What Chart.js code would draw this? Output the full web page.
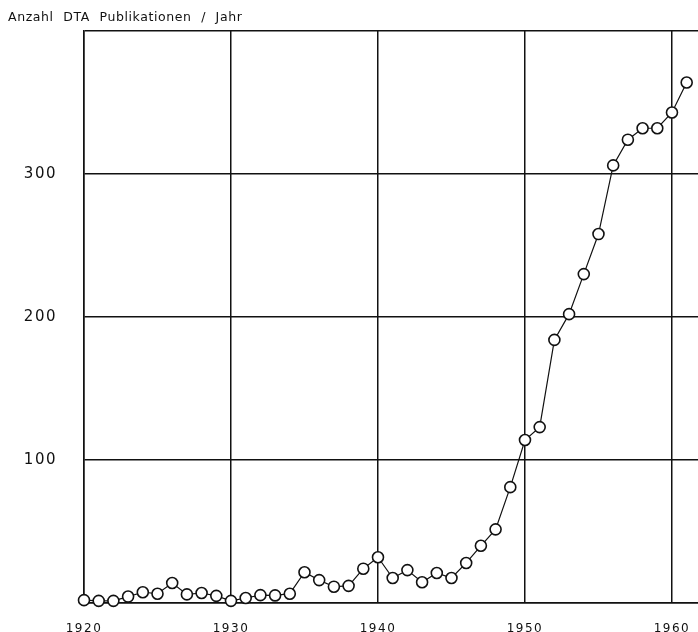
<!DOCTYPE html>
<html>
<head>
<meta charset="utf-8">
<script src="https://cdn.jsdelivr.net/npm/chart.js@4"></script>
<style>
    html, body { margin: 0; padding: 0; background: #fff; overflow: hidden; }
    #wrap { position: relative; width: 698px; height: 632px; }
    #title {
        position: absolute; left: 8px; top: 9px;
        font: 12.5px "DejaVu Sans", sans-serif; letter-spacing: 0.6px;
        word-spacing: 5px; color: #111;
    }
</style>
</head>
<body>
<div id="wrap">
    <div id="title">Anzahl DTA Publikationen / Jahr</div>
    <canvas id="dtaChart" width="698" height="632"></canvas>
</div>
<script>
    // years and publications per year
    var years = [1920, 1921, 1922, 1923, 1924, 1925, 1926, 1927, 1928, 1929,
        1930, 1931, 1932, 1933, 1934, 1935, 1936, 1937, 1938, 1939,
        1940, 1941, 1942, 1943, 1944, 1945, 1946, 1947, 1948, 1949,
        1950, 1951, 1952, 1953, 1954, 1955, 1956, 1957, 1958, 1959,
        1960, 1961];
    var publications = [2, 1.5, 1.5, 4.5, 7.5, 6.5, 14, 6, 7, 5,
        1.5, 3.5, 5.5, 5.3, 6.5, 21.5, 16, 11.4, 12, 24,
        32, 17.5, 23, 14.5, 21, 17.5, 28, 40, 51.5, 81,
        114, 123, 184, 202, 230, 258, 306, 324, 332, 332,
        343, 364];
    var xTicks = [1920, 1930, 1940, 1950, 1960];
    var yGrid = [0, 100, 200, 300, 400];
    var yTickLabels = [100, 200, 300];

    var points = years.map(function (y, i) { return { x: y, y: publications[i] }; });

    // spaced-out digits like the lettering on the original drawing
    var spacedText = {
        id: 'spacedText',
        beforeDraw: function (chart) {
            if ('letterSpacing' in chart.ctx) chart.ctx.letterSpacing = '1.5px';
        }
    };

    // no label overhang padding, the plot box is fixed
    var noPad = function (scale) {
        scale.paddingLeft = 0;
        scale.paddingRight = 0;
        scale.paddingTop = 0;
        scale.paddingBottom = 0;
    };

    new Chart(document.getElementById('dtaChart').getContext('2d'), {
        type: 'line',
        data: {
            datasets: [{
                data: points,
                borderColor: '#111',
                borderWidth: 1.2,
                tension: 0,
                pointRadius: 5.5,
                pointBorderWidth: 1.6,
                pointBackgroundColor: '#fff',
                pointBorderColor: '#111',
                clip: false
            }]
        },
        plugins: [spacedText],
        options: {
            responsive: false,
            animation: false,
            events: [],
            layout: { autoPadding: false, padding: { top: 31, right: 0, left: 0, bottom: 0 } },
            plugins: { legend: { display: false }, tooltip: { enabled: false } },
            scales: {
                x: {
                    type: 'linear',
                    min: 1920,
                    max: 1961.77,
                    afterBuildTicks: function (scale) {
                        scale.ticks = xTicks.map(function (v) { return { value: v }; });
                    },
                    afterFit: function (scale) { scale.height = 29; noPad(scale); },
                    grid: { color: '#111', lineWidth: 1.5, drawTicks: false },
                    border: { color: '#111', width: 1.5 },
                    ticks: {
                        color: '#111',
                        padding: 19,
                        maxRotation: 0,
                        font: { family: 'DejaVu Sans', size: 12 },
                        callback: function (v) { return String(v); }
                    }
                },
                y: {
                    min: 0,
                    max: 400,
                    afterBuildTicks: function (scale) {
                        scale.ticks = yGrid.map(function (v) { return { value: v }; });
                    },
                    afterFit: function (scale) { scale.width = 84; noPad(scale); },
                    grid: { color: '#111', lineWidth: 1.5, drawTicks: false },
                    border: { color: '#111', width: 1.5 },
                    ticks: {
                        color: '#111',
                        padding: 27,
                        font: { family: 'DejaVu Sans', size: 15 },
                        callback: function (v) {
                            return yTickLabels.indexOf(v) >= 0 ? String(v) : '';
                        }
                    }
                }
            }
        }
    });
</script>
</body>
</html>
